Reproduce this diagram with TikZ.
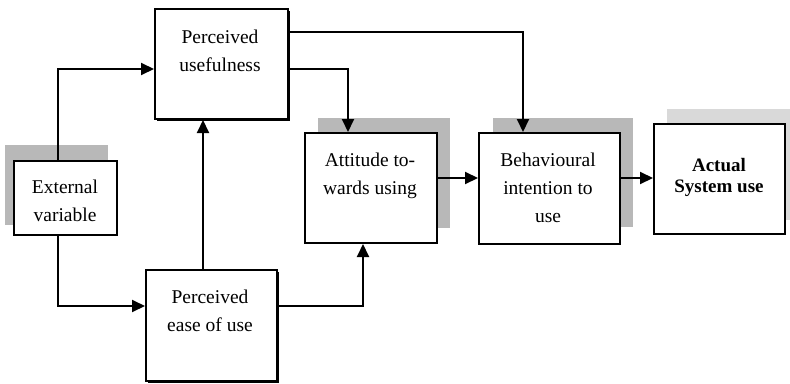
\documentclass[tikz,border=0pt]{standalone}
\usepackage{fontspec}
\setmainfont{Liberation Serif}
\usetikzlibrary{arrows.meta}
\begin{document}
\begin{tikzpicture}[x=1pt,y=-1pt,
  boxshape/.style={draw=black,line width=2pt,fill=white},
  shade/.style={fill=black!28},
  lightshade/.style={fill=black!15},
  dropshade/.style={fill=black},
  lbl/.style={align=center,font=\fontsize{19.5}{28}\selectfont,inner sep=0pt},
  conn/.style={line width=2pt,-{Triangle[length=13pt,width=12pt]}},
]
\useasboundingbox (0,0) rectangle (790,383);
% shadows
\fill[shade] (5,145) rectangle (108,225);
\fill[shade] (318,118) rectangle (450,228);
\fill[shade] (493,118) rectangle (633,227);
\fill[lightshade] (667,109) rectangle (800,220);
\fill[dropshade] (157,11) rectangle (290,121);
\fill[dropshade] (148,272) rectangle (279,383);
% boxes
\node[boxshape,minimum width=103pt,minimum height=74pt,anchor=north west] (ext) at (13,160) {};
\node[boxshape,minimum width=133pt,minimum height=110pt,anchor=north west] (pu) at (154,8) {};
\node[boxshape,minimum width=131pt,minimum height=111pt,anchor=north west] (peou) at (145,269) {};
\node[boxshape,minimum width=132pt,minimum height=110pt,anchor=north west] (att) at (304,132) {};
\node[boxshape,minimum width=141pt,minimum height=111pt,anchor=north west] (bi) at (478,132) {};
\node[boxshape,minimum width=131pt,minimum height=110pt,anchor=north west] (asu) at (653,123) {};
% labels
\node[lbl] (extl) at (65,201) {External\\variable};
\node[lbl] (pul) at (220,51) {Perceived\\usefulness};
\node[lbl] (peoul) at (210,311) {Perceived\\ease of use};
\node[lbl] (attl) at (370,176) {Attitude to-\\wards using};
\node[lbl] (bil) at (548,188) {Behavioural\\intention to\\use};
\node[lbl,font=\fontsize{19}{21}\selectfont\bfseries] (asul) at (719,177) {Actual\\System use};
% connectors
\coordinate (c1) at (58,69);
\coordinate (c2) at (58,306);
\draw[conn] (ext.north -| c1) |- (pu.west |- c1);
\draw[conn] (ext.south -| c2) |- (peou.west |- c2);
\draw[conn] (peou.north -| 203,0) -- (pu.south -| 203,0);
\draw[conn] (peou.east |- 0,306) -| (att.south -| 363,0);
\draw[conn] (pu.east |- 0,69) -| (att.north -| 348,0);
\draw[conn] (pu.east |- 0,32) -| (bi.north -| 523,0);
\draw[conn] (att.east |- 0,178) -- (bi.west |- 0,178);
\draw[conn] (bi.east |- 0,178) -- (asu.west |- 0,178);
\end{tikzpicture}
\end{document}
